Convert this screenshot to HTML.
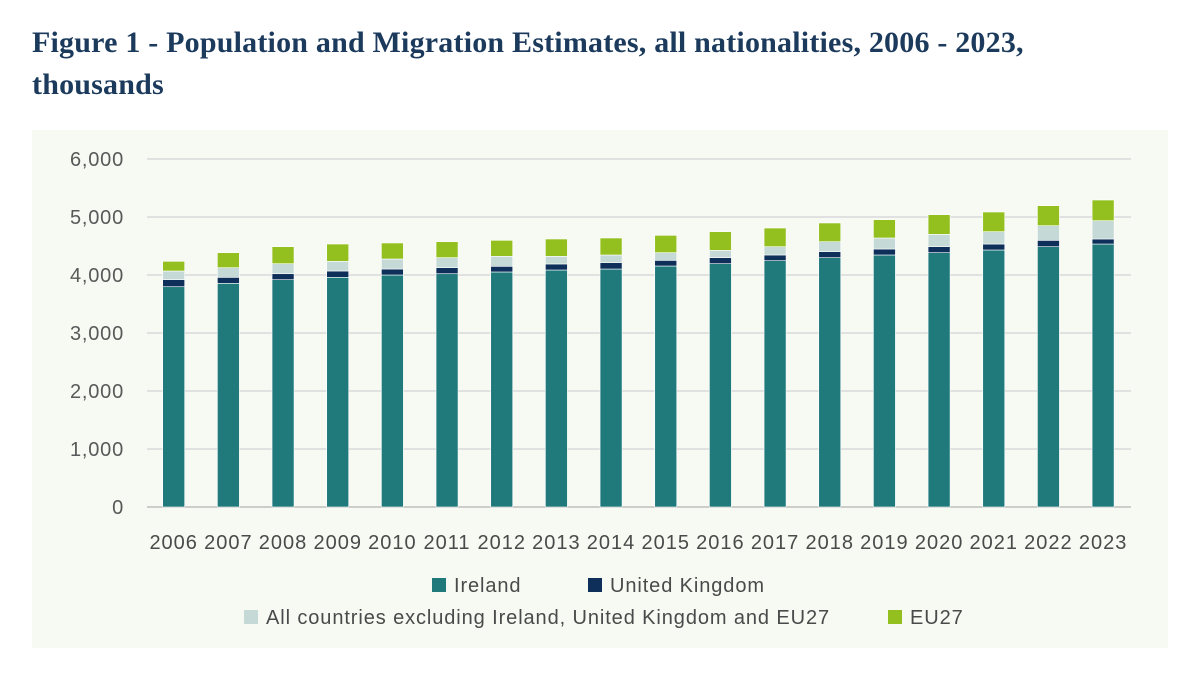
<!DOCTYPE html>
<html><head><meta charset="utf-8"><style>
body{margin:0;background:#fff;width:1200px;height:679px;overflow:hidden;font-family:"Liberation Sans",sans-serif}
#title{position:absolute;left:32px;top:22px;font-family:"Liberation Serif",serif;font-weight:bold;font-size:30px;line-height:42px;color:#1b3a5c;letter-spacing:0.2px}
#panel{position:absolute;left:32px;top:130px;width:1136px;height:518px;background:#f7f9f3}
svg{position:absolute;left:0;top:0}
</style></head><body>
<div id="title">Figure 1 - Population and Migration Estimates, all nationalities, 2006 - 2023,<br>thousands</div>
<div id="panel"></div>
<svg id="chart" width="1200" height="679"></svg>
<script>
const years=["2006","2007","2008","2009","2010","2011","2012","2013","2014","2015","2016","2017","2018","2019","2020","2021","2022","2023"];
const ireland=[3798,3857,3919,3960,4000,4022,4052,4086,4103,4155,4195,4247,4299,4345,4385,4431,4488,4534];
const uk=[121,103,103,109,103,104,98,104,109,98,104,98,103,103,103,103,110,87];
const other=[150,166,173,167,173,173,172,132,133,132,126,143,172,190,213,213,252,315];
const eu27=[167,259,293,298,276,275,276,299,293,299,322,322,323,316,339,339,345,357];
const yTicks=[0,1000,2000,3000,4000,5000,6000];
const seriesNames=["Ireland","United Kingdom","All countries excluding Ireland, United Kingdom and EU27","EU27"];
const colors=["#207a7c","#0e2f5a","#c5dad6","#93c01f"];
const svg=document.getElementById('chart');
const NS="http://www.w3.org/2000/svg";
const y0=507,pxPer=58/1000,xStart=173.7,pitch=54.67,bw=22;
const Y=v=>y0-v*pxPer, X=i=>xStart+i*pitch;
function mk(t,a){const e=document.createElementNS(NS,t);for(const k in a)e.setAttribute(k,a[k]);svg.appendChild(e);return e;}
yTicks.forEach(v=>{
 const l=mk('line',{x1:147,x2:1131,y1:Y(v),y2:Y(v),stroke:v===0?'#bfbfbf':'#d9d9d9','stroke-width':1.5});
 
 
 const t=mk('text',{x:124,y:Y(v)+7,'text-anchor':'end','font-size':20,fill:'#595959','letter-spacing':0.8,'font-family':'Liberation Sans, sans-serif'});
 t.textContent=v.toLocaleString('en-US');
 
 
});
const series=[ireland,uk,other,eu27];
years.forEach((yr,i)=>{
 let base=0;
 series.forEach((s,k)=>{
  const r=mk('rect',{x:X(i)-bw/2,y:Y(base+s[i]),width:bw,height:s[i]*pxPer,fill:colors[k],stroke:'#fff','stroke-width':0.6});
  
  
  base+=s[i];
 });
 const t=mk('text',{x:X(i),y:549,'text-anchor':'middle','font-size':20,fill:'#4a4a4a','letter-spacing':1,'font-family':'Liberation Sans, sans-serif'});
 t.textContent=yr;
 
 
});
const leg=[[432,586],[588,586],[244,618],[888,618]];
seriesNames.forEach((n,k)=>{
 const r=mk('rect',{x:leg[k][0],y:leg[k][1]-8,width:14,height:14,fill:colors[k]});
 
 
 const t=mk('text',{x:leg[k][0]+22,y:leg[k][1]+6,'font-size':20,fill:'#4a4a4a','letter-spacing':0.9,'font-family':'Liberation Sans, sans-serif'});
 t.textContent=n;
 
 
});
</script>
</body></html>
